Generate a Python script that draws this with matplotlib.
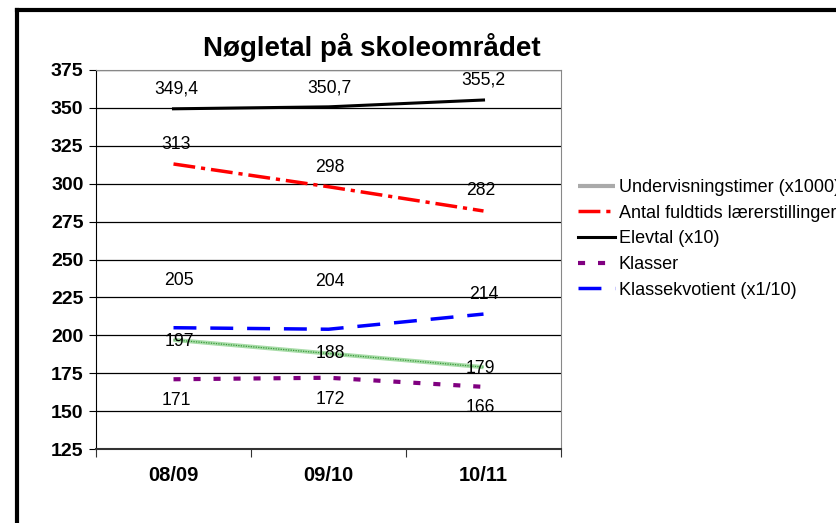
import matplotlib.pyplot as plt
from matplotlib.lines import Line2D

plt.rcParams['font.family'] = ['Liberation Sans', 'DejaVu Sans']

years = ['08/09', '09/10', '10/11']
undervisning = [197, 188, 179]
laerer = [313, 298, 282]
elevtal = [349.4, 350.7, 355.2]
klasser = [171, 172, 166]
kvotient = [205, 204, 214]

undervisning_lbl = ['197', '188', '179']
laerer_lbl = ['313', '298', '282']
elevtal_lbl = ['349,4', '350,7', '355,2']
klasser_lbl = ['171', '172', '166']
kvotient_lbl = ['205', '204', '214']

fig = plt.figure(figsize=(8.37, 5.23), dpi=100)
ax = fig.add_axes([96 / 837, 1 - 449 / 523, 465 / 837, 379 / 523])

x = range(len(years))

# Lines
ax.plot(x, undervisning, color='#a8dca8', lw=3, solid_capstyle='butt', zorder=3,
        label='Undervisningstimer (x1000)')
ax.plot(x, undervisning, color='#3a9a3a', lw=0.9, ls=(0, (1, 1)), zorder=4)
ax.plot(x, laerer, color='#ff0000', lw=2.5, ls=(0, (6.3, 1.7, 1.2, 1.7)), zorder=3,
        label='Antal fuldtids lærerstillinger')
ax.plot(x, elevtal, color='black', lw=2.2, zorder=3, label='Elevtal (x10)')
ax.plot(x, klasser, color='#800080', lw=3, ls=(0, (1.7, 3.1)), zorder=3,
        label='Klasser')
ax.plot(x, kvotient, color='#0000ff', lw=2.5, ls=(0, (6.6, 4)), zorder=3,
        label='Klassekvotient (x1/10)')

# Data labels (offsets in points)
def put_labels(vals, texts, offsets):
    for i, (v, t) in enumerate(zip(vals, texts)):
        dx, dy = offsets[i]
        ax.annotate(t, (i, v), xytext=(dx, dy), textcoords='offset points',
                    ha='center', va='center', fontsize=12.7, zorder=5)

put_labels(elevtal, elevtal_lbl, [(2, 14.5), (1, 13.5), (0, 14.5)])
put_labels(laerer, laerer_lbl, [(2, 14), (1, 14), (-2, 15)])
put_labels(kvotient, kvotient_lbl, [(4, 34), (1, 34.5), (0, 14)])
put_labels(undervisning, undervisning_lbl, [(4, -1), (1, 0), (-2, -1)])
put_labels(klasser, klasser_lbl, [(2, -15), (1, -15.5), (-2, -15)])

# Axes
ax.set_ylim(125, 375)
ax.set_yticks(range(125, 376, 25))
ax.set_xlim(-0.5, 2.5)
ax.set_xticks([-0.5, 0.5, 1.5, 2.5])
ax.set_xticklabels([])
ax.set_xticks(list(x), minor=True)
ax.set_xticklabels(years, minor=True, fontsize=14.5, fontweight='bold')
ax.tick_params(axis='x', which='major', length=6, direction='out', color='#333333')
ax.tick_params(axis='x', which='minor', length=0, pad=12)
ax.tick_params(axis='y', length=5, direction='out', labelsize=14, pad=4)
for lab in ax.get_yticklabels():
    lab.set_fontweight('bold')
ax.yaxis.grid(True, color='black', lw=0.9)
ax.set_axisbelow(True)
for side in ['top', 'right']:
    ax.spines[side].set_color('#888888')
    ax.spines[side].set_linewidth(0.8)
ax.spines['left'].set_color('black')
ax.spines['bottom'].set_color('#333333')
ax.spines['bottom'].set_linewidth(1.5)

fig.text(372 / 837, 1 - 48 / 523, 'Nøgletal på skoleområdet', ha='center', va='center',
         fontsize=20, fontweight='bold')

leg = fig.legend(loc='upper left', bbox_to_anchor=(578 / 837, 1 - 179 / 523),
                 frameon=False, fontsize=13, handlelength=2.05, handletextpad=0.2,
                 labelspacing=0.48, borderpad=0, borderaxespad=0)
handles = leg.legend_handles
handles[0].set_color('#aaaaaa')
handles[0].set_linewidth(3)

# Outer frame
fig.add_artist(Line2D([17 / 837, 17 / 837], [0, 1 - 10 / 523], transform=fig.transFigure,
                      color='black', lw=3, solid_capstyle='projecting'))
fig.add_artist(Line2D([17 / 837, 1], [1 - 10 / 523, 1 - 10 / 523], transform=fig.transFigure,
                      color='black', lw=3, solid_capstyle='projecting'))

fig.savefig('out.png', dpi=100)
